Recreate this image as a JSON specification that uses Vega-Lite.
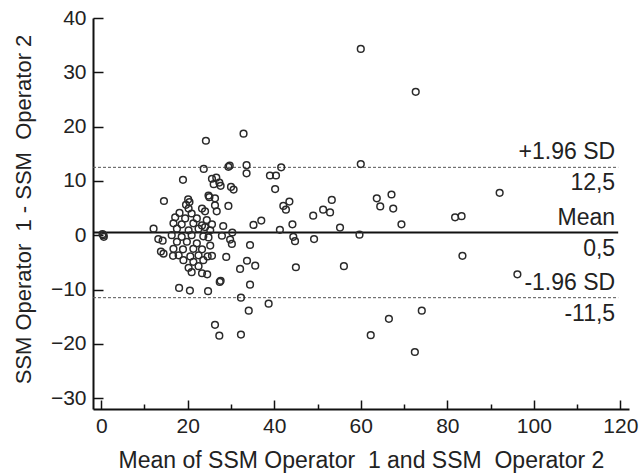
{
  "$schema": "https://vega.github.io/schema/vega-lite/v6.json",
  "width": 536,
  "height": 391,
  "autosize": {"type": "none"},
  "padding": {"left": 93, "top": 18, "right": 11, "bottom": 65},
  "background": "white",
  "config": {
    "view": {"stroke": null},
    "font": "Liberation Sans",
    "axis": {
      "grid": false,
      "domainColor": "#111",
      "domainWidth": 2,
      "tickColor": "#111",
      "tickWidth": 1.5,
      "labelColor": "#222",
      "titleColor": "#222",
      "labelFont": "Liberation Sans",
      "titleFont": "Liberation Sans",
      "labelFontSize": 21,
      "titleFontWeight": "normal"
    }
  },
  "datasets": {
    "points": [
      {"m": 60.0, "d": 34.3}, {"m": 72.7, "d": 26.4}, {"m": 60.0, "d": 13.1}, {"m": 32.9, "d": 18.7},
      {"m": 24.2, "d": 17.4}, {"m": 23.7, "d": 12.2}, {"m": 29.4, "d": 12.6}, {"m": 29.7, "d": 12.8},
      {"m": 33.6, "d": 12.9}, {"m": 33.6, "d": 11.4}, {"m": 41.6, "d": 12.5}, {"m": 39.0, "d": 11.0},
      {"m": 40.4, "d": 11.0}, {"m": 40.2, "d": 8.5}, {"m": 18.9, "d": 10.2}, {"m": 14.5, "d": 6.3},
      {"m": 20.1, "d": 6.6}, {"m": 20.4, "d": 6.1}, {"m": 24.8, "d": 7.3}, {"m": 25.6, "d": 10.4},
      {"m": 26.6, "d": 10.6}, {"m": 26.0, "d": 9.4}, {"m": 27.3, "d": 9.7}, {"m": 27.6, "d": 9.1},
      {"m": 30.0, "d": 8.9}, {"m": 30.6, "d": 8.4}, {"m": 25.0, "d": 7.0}, {"m": 26.3, "d": 6.8},
      {"m": 29.4, "d": 5.4}, {"m": 24.0, "d": 4.4}, {"m": 26.7, "d": 4.4}, {"m": 42.1, "d": 5.4},
      {"m": 42.7, "d": 4.7}, {"m": 43.5, "d": 6.2}, {"m": 37.0, "d": 2.7}, {"m": 35.2, "d": 1.9},
      {"m": 49.0, "d": 3.6}, {"m": 41.3, "d": 1.0}, {"m": 44.2, "d": 2.0}, {"m": 28.2, "d": 1.7},
      {"m": 30.3, "d": 0.5}, {"m": 27.9, "d": -0.1}, {"m": 29.8, "d": -0.8}, {"m": 30.2, "d": -1.6},
      {"m": 34.4, "d": -1.8}, {"m": 44.4, "d": -0.3}, {"m": 44.8, "d": -1.1}, {"m": 49.2, "d": -0.7},
      {"m": 28.9, "d": -4.0}, {"m": 33.7, "d": -4.7}, {"m": 35.6, "d": -5.6}, {"m": 32.1, "d": -6.2},
      {"m": 45.0, "d": -5.9}, {"m": 24.5, "d": -7.2}, {"m": 27.6, "d": -8.4}, {"m": 27.4, "d": -8.6},
      {"m": 34.4, "d": -9.1}, {"m": 24.7, "d": -10.3}, {"m": 32.3, "d": -11.5}, {"m": 38.7, "d": -12.6},
      {"m": 34.1, "d": -13.9}, {"m": 26.3, "d": -16.5}, {"m": 27.3, "d": -18.5}, {"m": 32.3, "d": -18.3},
      {"m": 53.3, "d": 6.5}, {"m": 51.3, "d": 4.7}, {"m": 52.9, "d": 4.2}, {"m": 63.7, "d": 6.8},
      {"m": 64.5, "d": 5.3}, {"m": 67.1, "d": 7.5}, {"m": 67.5, "d": 4.9}, {"m": 69.4, "d": 2.0},
      {"m": 55.2, "d": 1.4}, {"m": 59.7, "d": 0.1}, {"m": 56.1, "d": -5.7}, {"m": 74.1, "d": -13.9},
      {"m": 66.5, "d": -15.4}, {"m": 62.3, "d": -18.4}, {"m": 72.5, "d": -21.5}, {"m": 92.1, "d": 7.8},
      {"m": 81.8, "d": 3.3}, {"m": 83.3, "d": 3.5}, {"m": 83.5, "d": -3.8}, {"m": 96.2, "d": -7.2},
      {"m": 12.1, "d": 1.2}, {"m": 13.2, "d": -0.7}, {"m": 14.2, "d": -1.0}, {"m": 13.8, "d": -3.0},
      {"m": 14.4, "d": -3.4}, {"m": 16.6, "d": -3.8}, {"m": 18.0, "d": -9.7}, {"m": 20.5, "d": -10.2},
      {"m": 0.3, "d": 0.2}, {"m": 0.6, "d": -0.3}, {"m": 0.5, "d": 0.0},
      {"m": 25.2, "d": -1.9}, {"m": 25.6, "d": -3.8}, {"m": 24.6, "d": -3.9}, {"m": 24.4, "d": 2.8},
      {"m": 25.6, "d": 2.0}, {"m": 24.0, "d": 1.5}, {"m": 25.2, "d": 0.9}, {"m": 24.8, "d": -0.4},
      {"m": 20.2, "d": 4.9}, {"m": 23.3, "d": 4.9}, {"m": 18.1, "d": 4.1}, {"m": 20.9, "d": 4.0},
      {"m": 17.1, "d": 3.3}, {"m": 19.4, "d": 3.1}, {"m": 22.1, "d": 3.1}, {"m": 16.7, "d": 2.2},
      {"m": 18.6, "d": 2.0}, {"m": 21.3, "d": 2.2}, {"m": 23.3, "d": 1.8}, {"m": 17.5, "d": 1.2},
      {"m": 20.2, "d": 0.9}, {"m": 22.5, "d": 1.2}, {"m": 16.3, "d": 0.0}, {"m": 18.6, "d": -0.3},
      {"m": 20.9, "d": 0.0}, {"m": 23.6, "d": -0.2}, {"m": 17.5, "d": -1.2}, {"m": 19.8, "d": -1.2},
      {"m": 22.1, "d": -1.5}, {"m": 16.7, "d": -2.5}, {"m": 18.9, "d": -2.6}, {"m": 21.3, "d": -2.5},
      {"m": 23.3, "d": -2.6}, {"m": 17.9, "d": -3.7}, {"m": 20.6, "d": -3.9}, {"m": 22.5, "d": -3.7},
      {"m": 19.0, "d": -4.6}, {"m": 21.3, "d": -4.9}, {"m": 23.6, "d": -4.6}, {"m": 20.2, "d": -6.0},
      {"m": 22.5, "d": -5.7}, {"m": 20.9, "d": -6.8}, {"m": 23.3, "d": -7.0}, {"m": 19.6, "d": 5.6},
      {"m": 26.3, "d": 5.5}
    ],
    "stats": [
      {"stat": "upper", "label": "+1.96 SD", "valueText": "12,5", "value": 12.5},
      {"stat": "mean", "label": "Mean", "valueText": "0,5", "value": 0.5},
      {"stat": "lower", "label": "-1.96 SD", "valueText": "-11,5", "value": -11.5}
    ]
  },
  "layer": [
    {
      "data": {"name": "stats"},
      "transform": [{"filter": "datum.stat !== 'mean'"}],
      "mark": {"type": "rule", "color": "#555", "strokeWidth": 1, "strokeDash": [3, 2]},
      "encoding": {
        "y": {"field": "value", "type": "quantitative", "scale": {"domain": [-32, 40], "nice": false, "zero": false}},
        "x": {"datum": -1.9, "type": "quantitative"},
        "x2": {"datum": 119.5}
      }
    },
    {
      "data": {"name": "stats"},
      "transform": [{"filter": "datum.stat === 'mean'"}],
      "mark": {"type": "rule", "color": "#111", "strokeWidth": 2},
      "encoding": {
        "y": {"field": "value", "type": "quantitative"},
        "x": {"datum": -1.9, "type": "quantitative"},
        "x2": {"datum": 119.5}
      }
    },
    {
      "data": {"name": "points"},
      "mark": {"type": "point", "shape": "circle", "filled": false, "stroke": "#2a2a2a", "strokeWidth": 1.5, "size": 45, "opacity": 1},
      "encoding": {
        "x": {
          "field": "m", "type": "quantitative",
          "scale": {"domain": [-1.9, 122], "nice": false, "zero": false},
          "axis": {
            "title": "Mean of SSM Operator\u00a0 1 and SSM\u00a0 Operator 2",
            "titleFontSize": 23,
            "values": [0, 10, 20, 30, 40, 50, 60, 70, 80, 90, 100, 110, 120],
            "labelExpr": "datum.value % 20 === 0 ? datum.label : ''",
            "tickSize": {"condition": {"test": "datum.value % 20 === 0", "value": -9}, "value": -5},
            "labelPadding": 15,
            "titleX": 268,
            "titleY": 58,
            "titleBaseline": "alphabetic",
            "titleAnchor": "middle",
            "titleAlign": "center"
          }
        },
        "y": {
          "field": "d", "type": "quantitative",
          "axis": {
            "title": "SSM Operator\u00a0 1 - SSM\u00a0 Operator 2",
            "titleFontSize": 22,
            "values": [-30, -25, -20, -15, -10, -5, 0, 5, 10, 15, 20, 25, 30, 35, 40],
            "labelExpr": "datum.value % 10 === 0 ? datum.label : ''",
            "tickSize": {"condition": {"test": "datum.value % 10 === 0", "value": -10}, "value": -5},
            "labelPadding": 17,
            "titleX": -70,
            "titleY": 191,
            "titleAngle": 270,
            "titleBaseline": "middle",
            "titleAlign": "center",
            "titleAnchor": "middle"
          }
        }
      }
    },
    {
      "data": {"name": "stats"},
      "mark": {"type": "text", "align": "right", "baseline": "alphabetic", "dy": -8, "fontSize": 23, "color": "#222", "font": "Liberation Sans"},
      "encoding": {
        "y": {"field": "value", "type": "quantitative"},
        "x": {"datum": 118.8, "type": "quantitative"},
        "text": {"field": "label"}
      }
    },
    {
      "data": {"name": "stats"},
      "mark": {"type": "text", "align": "right", "baseline": "alphabetic", "dy": 23, "fontSize": 23, "color": "#222", "font": "Liberation Sans"},
      "encoding": {
        "y": {"field": "value", "type": "quantitative"},
        "x": {"datum": 118.8, "type": "quantitative"},
        "text": {"field": "valueText"}
      }
    }
  ]
}
